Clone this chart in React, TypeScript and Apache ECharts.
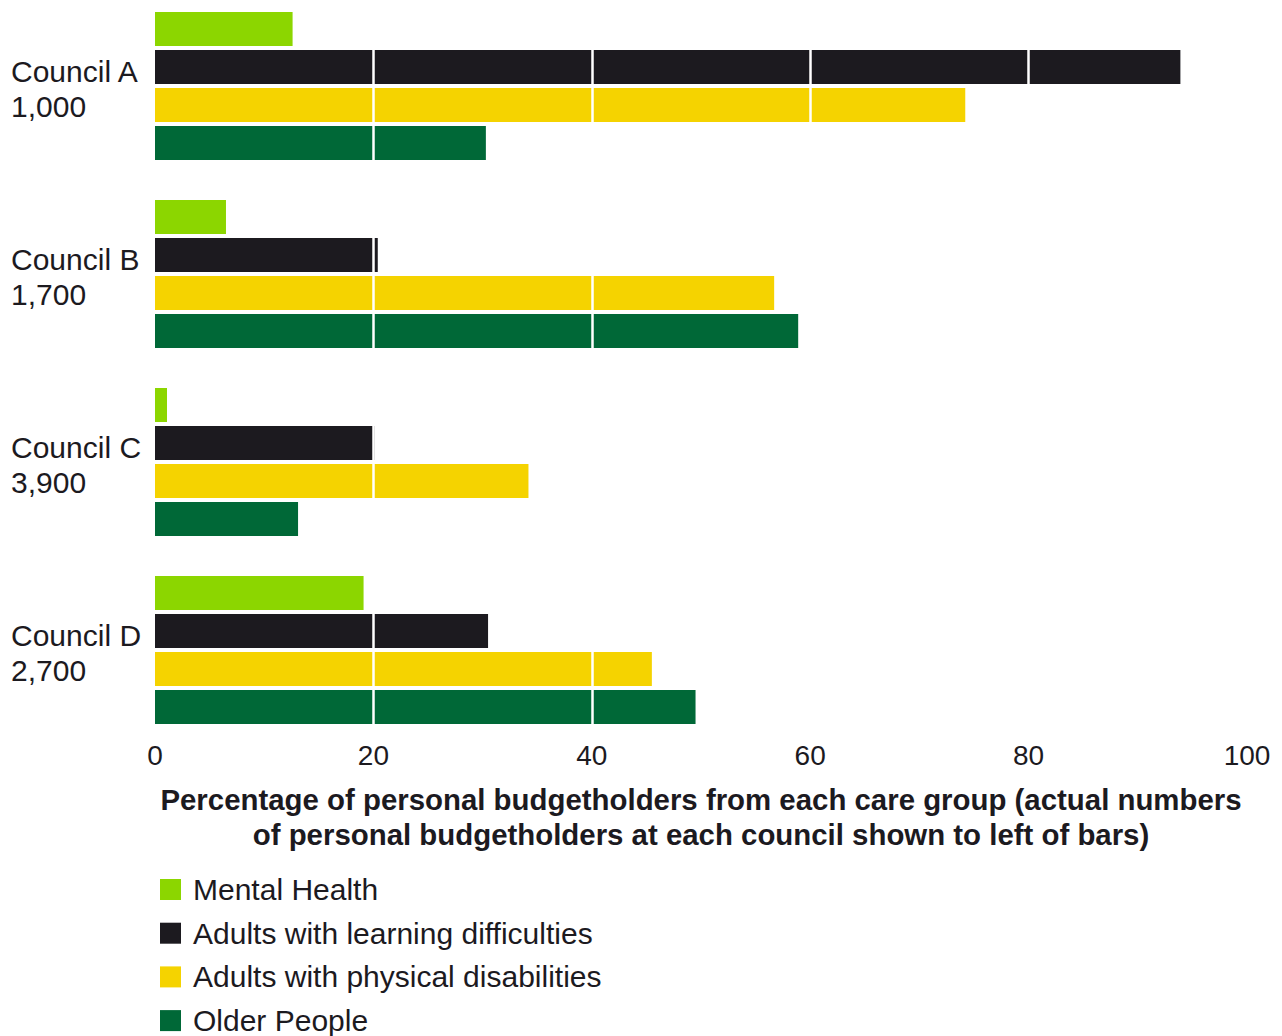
import React, { useEffect, useRef } from "react";
import * as echarts from "echarts";

const councils = ["Council A\n1,000", "Council B\n1,700", "Council C\n3,900", "Council D\n2,700"];
const seriesNames = [
  "Mental Health",
  "Adults with learning difficulties",
  "Adults with physical disabilities",
  "Older People",
];
const mentalHealth = [12.6, 6.5, 1.1, 19.1];
const learningDifficulties = [93.9, 20.4, 20.1, 30.5];
const physicalDisabilities = [74.2, 56.7, 34.2, 45.5];
const olderPeople = [30.3, 58.9, 13.1, 49.5];
const colors = ["#8cd600", "#1c1a1f", "#f5d300", "#006837"];
const axisTitle =
  "Percentage of personal budgetholders from each care group (actual numbers\nof personal budgetholders at each council shown to left of bars)";

const FONT = "'Liberation Sans', Arial, Helvetica, sans-serif";
const TEXT = "#1c1a1f";

export default function App() {
  const ref = useRef<HTMLDivElement>(null);
  useEffect(() => {
    if (!ref.current) return;
    const chart = echarts.init(ref.current, undefined, { renderer: "svg" });
    const values = [mentalHealth, learningDifficulties, physicalDisabilities, olderPeople];
    chart.setOption({
      animation: false,
      textStyle: { fontFamily: FONT, color: TEXT },
      grid: {
        left: 155,
        right: 35,
        top: -8,
        height: 752,
        containLabel: false,
        outerBoundsMode: "none",
      },
      legend: {
        orient: "vertical",
        left: 160,
        top: 874.5,
        padding: 0,
        itemWidth: 21,
        itemHeight: 21,
        itemGap: 13.7,
        icon: "rect",
        data: seriesNames,
        textStyle: { fontFamily: FONT, fontSize: 30, color: TEXT, padding: [0, 0, 0, 7] },
      },
      xAxis: {
        type: "value",
        min: 0,
        max: 100,
        interval: 20,
        z: 10,
        axisLine: { show: false },
        axisTick: { show: false },
        axisLabel: { fontFamily: FONT, fontSize: 28, color: TEXT, margin: -3 },
        splitLine: {
          show: true,
          showMinLine: false,
          showMaxLine: false,
          lineStyle: { color: "#ffffff", width: 2.5 },
        },
        name: axisTitle,
        nameLocation: "middle",
        nameGap: 38,
        nameTextStyle: {
          fontFamily: FONT,
          fontSize: 29.4,
          fontWeight: "bold",
          color: TEXT,
          lineHeight: 35,
          align: "center",
        },
      },
      yAxis: {
        type: "category",
        inverse: true,
        data: councils,
        axisLine: { show: false },
        axisTick: { show: false },
        axisLabel: {
          fontFamily: FONT,
          fontSize: 30,
          color: TEXT,
          align: "left",
          margin: 144,
          lineHeight: 35,
          formatter: (val: string) => {
            const [name, count] = val.split("\n");
            return `{n|${name}}\n{v|${count}}`;
          },
          rich: {
            n: { fontFamily: FONT, fontSize: 30, color: TEXT, lineHeight: 35, padding: [6, 0, 0, 0] },
            v: { fontFamily: FONT, fontSize: 30, color: TEXT, lineHeight: 35, padding: [6, 0, 0, 0] },
          },
        },
      },
      series: seriesNames.map((name, i) => ({
        name,
        type: "bar",
        data: values[i],
        barWidth: 34,
        barGap: "11.76%",
        itemStyle: { color: colors[i] },
      })),
    });
    return () => chart.dispose();
  }, []);
  return (
    <div
      style={{
        position: "absolute",
        left: 0,
        top: 0,
        width: 1282,
        height: 1036,
        overflow: "hidden",
      }}
    >
      <div ref={ref} style={{ width: 1282, height: 1080 }} />
    </div>
  );
}
